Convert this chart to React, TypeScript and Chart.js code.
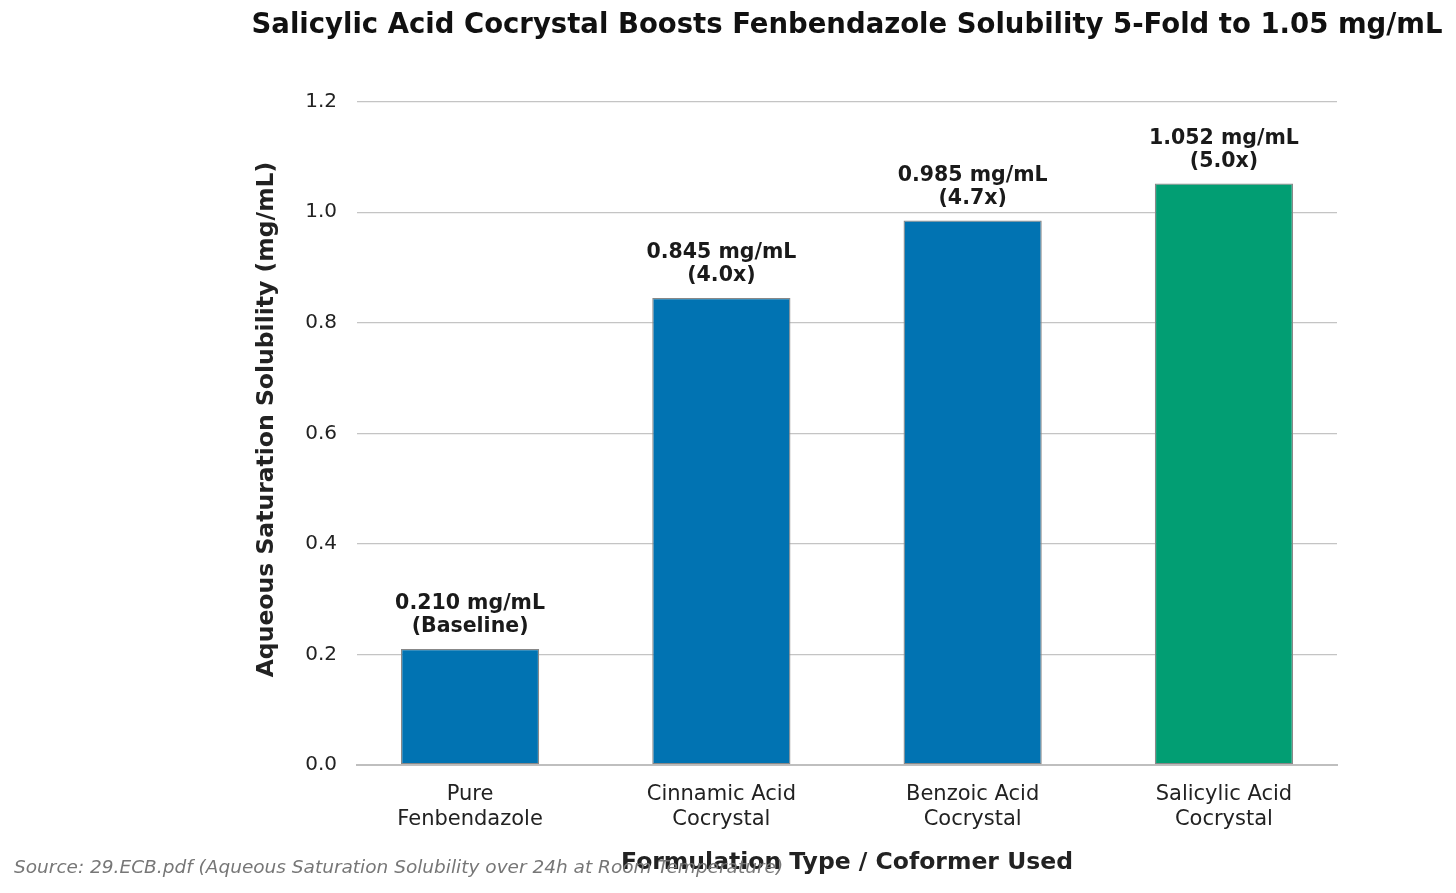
import React, { useEffect, useRef } from 'react';
import Chart from 'chart.js/auto';

const categories = [['Pure', 'Fenbendazole'], ['Cinnamic Acid', 'Cocrystal'], ['Benzoic Acid', 'Cocrystal'], ['Salicylic Acid', 'Cocrystal']];
const solubility = [0.21, 0.845, 0.985, 1.052];
const barLabels = [['0.210 mg/mL', '(Baseline)'], ['0.845 mg/mL', '(4.0x)'], ['0.985 mg/mL', '(4.7x)'], ['1.052 mg/mL', '(5.0x)']];
const barColors = ['#0173B2', '#0173B2', '#0173B2', '#029E73'];
const yTicks = [0, 0.2, 0.4, 0.6, 0.8, 1.0, 1.2];

const FONT = '"DejaVu Sans", sans-serif';

const App: React.FC = () => {
  const chartRef = useRef<HTMLCanvasElement | null>(null);
  const chartInstance = useRef<Chart | null>(null);

  useEffect(() => {
    document.body.style.margin = '0';
    const canvas = chartRef.current;
    if (!canvas) return;
    const ctx = canvas.getContext('2d');
    if (!ctx) return;

    if (chartInstance.current) chartInstance.current.destroy();

    // titles, bar labels and source note drawn by hand
    const textPlugin = {
      id: 'textPlugin',
      afterDatasetsDraw(chart: any) {
        const c = chart.ctx;
        const area = chart.chartArea;
        const cx = (area.left + area.right) / 2;
        c.save();
        c.fillStyle = '#111';
        c.textAlign = 'center';
        c.textBaseline = 'middle';
        c.font = `bold 27.5px ${FONT}`;
        c.fillText('Salicylic Acid Cocrystal Boosts Fenbendazole Solubility 5-Fold to 1.05 mg/mL', cx, 26);

        c.fillStyle = '#222';
        c.font = `bold 23.5px ${FONT}`;
        c.fillText('Formulation Type / Coformer Used', cx, 863);

        c.save();
        c.translate(267, (area.top + area.bottom) / 2);
        c.rotate(-Math.PI / 2);
        c.fillText('Aqueous Saturation Solubility (mg/mL)', 0, 0);
        c.restore();

        const meta = chart.getDatasetMeta(0);
        c.font = `bold 20.5px ${FONT}`;
        c.fillStyle = '#1a1a1a';
        meta.data.forEach((bar: any, i: number) => {
          const [l1, l2] = barLabels[i];
          c.fillText(l1, bar.x, bar.y - 45);
          c.fillText(l2, bar.x, bar.y - 22);
        });

        c.textAlign = 'left';
        c.font = `italic 18.5px ${FONT}`;
        c.fillStyle = '#777';
        c.fillText('Source: 29.ECB.pdf (Aqueous Saturation Solubility over 24h at Room Temperature)', 14, 868);
        c.restore();
      },
    };

    chartInstance.current = new Chart(ctx, {
      type: 'bar',
      data: {
        datasets: [
          {
            data: solubility.map((v, i) => ({ x: i, y: v })),
            backgroundColor: barColors,
            borderColor: '#888888',
            borderWidth: 1.3,
            borderSkipped: false,
            barPercentage: 0.55,
            categoryPercentage: 1,
          },
        ],
      },
      options: {
        animation: false,
        responsive: false,
        layout: { padding: { top: 74, left: 297, right: 119, bottom: 38 } },
        plugins: {
          legend: { display: false },
          title: { display: false },
          tooltip: { enabled: false },
        },
        scales: {
          x: {
            type: 'linear',
            offset: false,
            min: -0.45,
            max: 3.45,
            afterFit: (scale: any) => { scale.height = 90; },
            afterBuildTicks: (scale: any) => { scale.ticks = categories.map((_, i) => ({ value: i })); },
            grid: { display: false },
            border: { display: true, color: '#bfbfbf', width: 2 },
            ticks: {
              padding: 9,
              color: '#222',
              maxRotation: 0,
              font: { family: FONT, size: 21 },
              callback: (v: any) => categories[v as number] ?? '',
            },
          },
          y: {
            min: 0,
            max: 1.25,
            afterFit: (scale: any) => { scale.width = 60; },
            afterBuildTicks: (scale: any) => { scale.ticks = yTicks.map((v) => ({ value: v })); },
            grid: { color: '#c4c4c4', lineWidth: 1.3, drawTicks: false },
            border: { display: false },
            ticks: {
              padding: 20,
              color: '#222',
              font: { family: FONT, size: 20 },
              callback: (v: any) => Number(v).toFixed(1),
            },
          },
        },
      },
      plugins: [textPlugin],
    });

    return () => {
      if (chartInstance.current) {
        chartInstance.current.destroy();
        chartInstance.current = null;
      }
    };
  }, []);

  return <canvas ref={chartRef} width={1456} height={893} style={{ display: 'block' }} />;
};

export default App;
